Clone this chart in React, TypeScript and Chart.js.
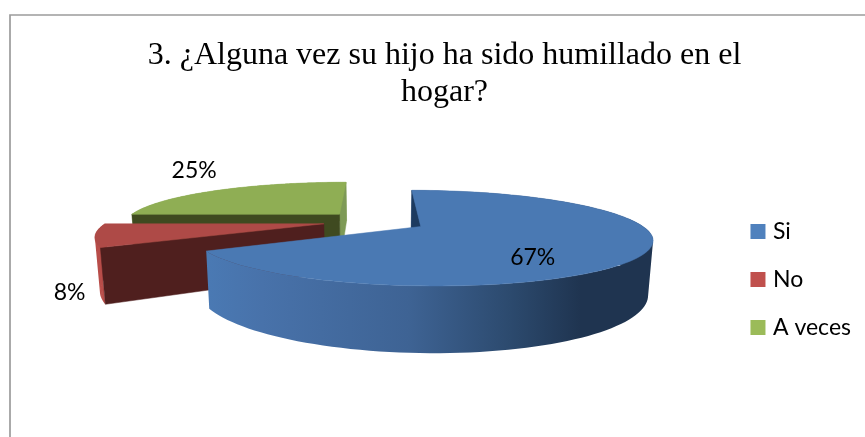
import React, { useEffect, useRef } from "react";
import { Chart, registerables } from "chart.js";

Chart.register(...registerables);

const categories = ["Si", "No", "A veces"];
const percentages = [67, 8, 25];
const titleLines = ["3. ¿Alguna vez su hijo ha sido humillado en el", "hogar?"];

const legendColors = ["#4f81bd", "#c0504d", "#9bbb59"];
const topColors = ["#4a79b3", "#ae4a47", "#8fae54"];
const rimColors = ["#3e6394", "#b84d49", "#87a351"];
const startWallColors = ["#1d3b60", "#4f1f1e", "#3f4a20"];
const endWallColors = ["#1d3b60", "#4f1f1e", "#7e9a56"];
const labelPolarAngle = [55, 124.6, 236.7];
const labelPolarRadius = [0.705, 1.38, 1.82];

const FONT = "Lato";
const explode = 0.24;
const cam = { cx: 374.8, cy: 221.2, a: 216, b: 42.5, p: 0.235, depth: 49.5, shrink: 0.018 };

type Pt = { x: number; y: number };

function project(X: number, Y: number, Z: number): Pt {
  const w = 1 - cam.p * Y;
  return {
    x: cam.cx + ((cam.a * X) / w) * (1 - cam.shrink * Z),
    y: cam.cy + (cam.b * Y) / w + (cam.depth * Z) / w,
  };
}

function trace(ctx: CanvasRenderingContext2D, pts: Pt[]) {
  pts.forEach((p, i) => (i ? ctx.lineTo(p.x, p.y) : ctx.moveTo(p.x, p.y)));
  ctx.closePath();
}

function poly(ctx: CanvasRenderingContext2D, pts: Pt[], fill: any) {
  ctx.beginPath();
  trace(ctx, pts);
  ctx.fillStyle = fill;
  ctx.strokeStyle = fill;
  ctx.lineWidth = 0.5;
  ctx.fill();
  ctx.stroke();
}

function area(q: Pt[]) {
  let s = 0;
  q.forEach((p, i) => {
    const n = q[(i + 1) % q.length];
    s += p.x * n.y - n.x * p.y;
  });
  return s;
}

const pie3d = {
  id: "pie3d",
  beforeDraw(chart: any) {
    const ctx = chart.ctx as CanvasRenderingContext2D;
    ctx.save();
    ctx.strokeStyle = "#9c9c9c";
    ctx.lineWidth = 1.7;
    ctx.beginPath();
    ctx.moveTo(10, chart.height);
    ctx.lineTo(10, 15);
    ctx.lineTo(chart.width, 15);
    ctx.stroke();
    ctx.restore();
  },
  beforeDatasetDraw(chart: any, args: any) {
    const ctx = chart.ctx as CanvasRenderingContext2D;
    const arcs = chart.getDatasetMeta(args.index).data as any[];
    ctx.save();
    for (let i = arcs.length - 1; i >= 0; i--) {
      const arc = arcs[i];
      const mid = (arc.startAngle + arc.endAngle) / 2;
      const ox = Math.cos(mid) * explode;
      const oy = Math.sin(mid) * explode;
      const rim: Pt[] = [];
      const rimLow: Pt[] = [];
      const steps = 120;
      for (let s = 0; s <= steps; s++) {
        const t = arc.startAngle + ((arc.endAngle - arc.startAngle) * s) / steps;
        rim.push(project(ox + Math.cos(t), oy + Math.sin(t), 0));
        rimLow.push(project(ox + Math.cos(t), oy + Math.sin(t), 1));
      }
      const apex = project(ox, oy, 0);
      const apexLow = project(ox, oy, 1);

      let sideFill: any = rimColors[i];
      if (i === 0) {
        const g = ctx.createLinearGradient(209, 0, 652, 0);
        g.addColorStop(0, "#4a79b3");
        g.addColorStop(0.12, "#4872aa");
        g.addColorStop(0.45, "#3e6394");
        g.addColorStop(0.68, "#2c4a6e");
        g.addColorStop(0.84, "#1f3450");
        g.addColorStop(1, "#1f3450");
        sideFill = g;
      }
      ctx.beginPath();
      for (let s = 0; s < steps; s++) {
        const quad = [rim[s], rim[s + 1], rimLow[s + 1], rimLow[s]];
        trace(ctx, area(quad) > 0 ? quad : quad.slice().reverse());
      }
      ctx.fillStyle = sideFill;
      ctx.fill("nonzero");

      const startWall = [apex, rim[0], rimLow[0], apexLow];
      const endWall = [apex, rim[steps], rimLow[steps], apexLow];
      if (area(endWall) > 0) poly(ctx, endWall, endWallColors[i]);
      if (area(startWall) < 0) poly(ctx, startWall, startWallColors[i]);
      poly(ctx, [apex, ...rim], topColors[i]);
    }

    ctx.fillStyle = "#000";
    ctx.font = `23px ${FONT}`;
    ctx.textAlign = "center";
    ctx.textBaseline = "middle";
    arcs.forEach((arc, i) => {
      const mid = (arc.startAngle + arc.endAngle) / 2;
      const t = (labelPolarAngle[i] * Math.PI) / 180;
      const p = project(
        Math.cos(mid) * explode + Math.cos(t) * labelPolarRadius[i],
        Math.sin(mid) * explode + Math.sin(t) * labelPolarRadius[i],
        0
      );
      ctx.fillText(`${percentages[i]}%`, p.x, p.y + 1);
    });
    ctx.restore();
    return false;
  },
};

export default function App() {
  const ref = useRef<HTMLCanvasElement>(null);
  useEffect(() => {
    document.body.style.margin = "0";
    const chart = new Chart(ref.current!, {
      type: "pie",
      data: {
        labels: categories,
        datasets: [{ data: percentages, backgroundColor: legendColors, borderWidth: 0 }],
      },
      options: {
        responsive: false,
        animation: false,
        rotation: 0,
        layout: { padding: { left: 28, right: 4, top: 37, bottom: -85 } },
        plugins: {
          tooltip: { enabled: false },
          title: {
            display: true,
            text: titleLines,
            color: "#000",
            font: { family: "Liberation Serif", size: 32, weight: "normal", lineHeight: 1.156 },
            padding: { top: 0, bottom: 10 },
          },
          legend: {
            position: "right",
            labels: {
              usePointStyle: true,
              pointStyle: "rect",
              boxWidth: 7,
              boxHeight: 15,
              padding: 25,
              color: "#000",
              font: { family: FONT, size: 23 },
            },
          },
        },
      } as any,
      plugins: [pie3d],
    });
    return () => chart.destroy();
  }, []);
  return <canvas ref={ref} width={865} height={437} style={{ display: "block" }} />;
}
